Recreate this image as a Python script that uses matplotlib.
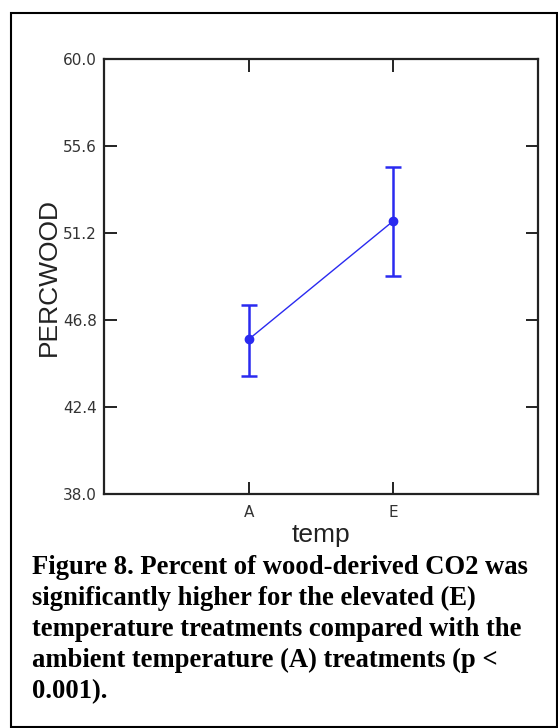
import matplotlib
matplotlib.use("Agg")
import matplotlib.pyplot as plt
import numpy as np
from matplotlib.patches import Rectangle

categories = ["A", "E"]
means = [45.82, 51.81]
lower = [43.98, 49.03]
upper = [47.56, 54.55]
ytick_vals = [38.0, 42.4, 46.8, 51.2, 55.6, 60.0]
caption_lines = [
    "Figure 8. Percent of wood-derived CO2 was",
    "significantly higher for the elevated (E)",
    "temperature treatments compared with the",
    "ambient temperature (A) treatments (p <",
    "0.001).",
]

W, H = 558, 728
fig = plt.figure(figsize=(W / 100, H / 100), dpi=100)
fig.patch.set_facecolor("white")

L, R, T, B = 104, 538, 59, 494
ax = fig.add_axes([L / W, 1 - B / H, (R - L) / W, (B - T) / H])

x = np.arange(len(categories))
m = np.array(means)
yerr = np.vstack([m - np.array(lower), np.array(upper) - m])
blue = "#2a2af0"
ax.plot(x, m, color=blue, lw=1.0, zorder=2)
ax.errorbar(x, m, yerr=yerr, fmt="o", color=blue, ms=6, elinewidth=1.8,
            capsize=6, capthick=1.8, zorder=3)

ax.set_xlim(-1, 2)
ax.set_ylim(38, 60)
ax.set_xticks(x)
ax.set_xticklabels(categories)
ax.set_yticks(ytick_vals)
ax.set_yticklabels([f"{v:.1f}" for v in ytick_vals])
ax.tick_params(direction="in", length=9, width=1.4, color="#222222",
               top=True, right=True, labelsize=11, labelcolor="#333333")
ax.tick_params(axis="y", pad=5)
ax.tick_params(axis="x", pad=8)
for sp in ax.spines.values():
    sp.set_linewidth(1.6)
    sp.set_color("#222222")

fig.text(49 / W, 1 - 277 / H, "PERCWOOD", rotation=90, ha="center", va="center",
         fontsize=19, family="Liberation Sans", color="#222222")
fig.text((L + R) / 2 / W, 1 - 535 / H, "temp", ha="center", va="center",
         fontsize=19, family="Liberation Sans", color="#222222")

baselines = [574, 605, 636, 667, 698]
for line, yb in zip(caption_lines, baselines):
    fig.text(32 / W, 1 - yb / H, line, ha="left", va="baseline", fontsize=19.2,
             family="Liberation Serif", fontweight="bold", color="black")

fig.patches.append(Rectangle((11 / W, 1 - 727 / H), (557 - 11) / W, (727 - 13) / H,
                             transform=fig.transFigure, fill=False, lw=1.5,
                             ec="black"))

fig.savefig("out.png", dpi=100)
